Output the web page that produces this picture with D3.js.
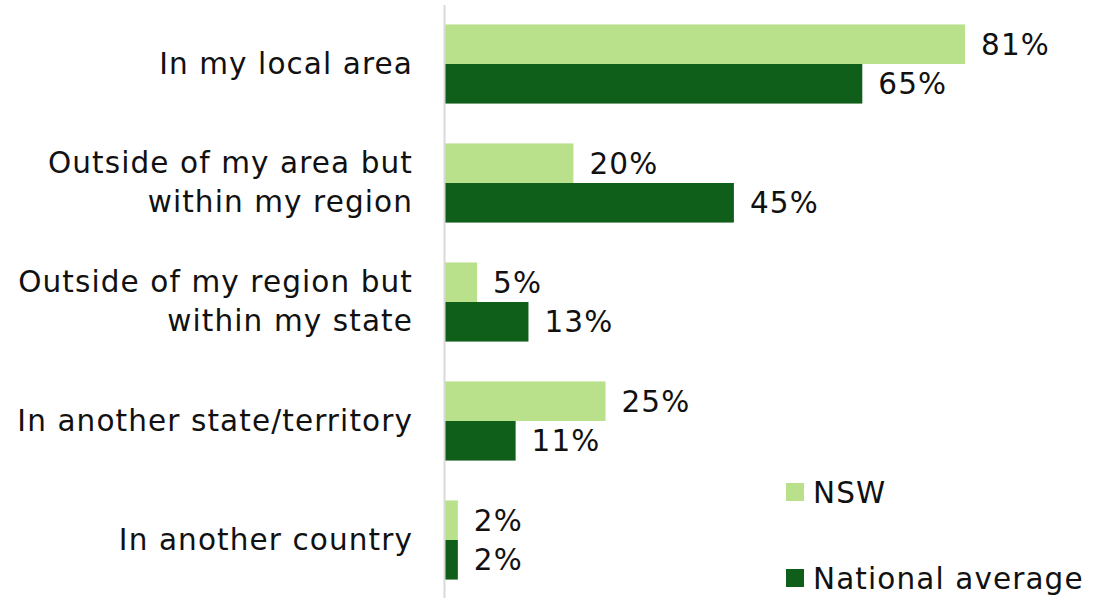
<!DOCTYPE html>
<html><head><meta charset="utf-8">
<script src="https://cdn.jsdelivr.net/npm/d3@7"></script>
<style>body{margin:0;background:#fff}svg{display:block}text{font-family:"DejaVu Sans",sans-serif;fill:#111;letter-spacing:1.1px}</style>
</head><body><svg id="c" width="1093" height="598"></svg>
<script>
const categories = [["In my local area"],["Outside of my area but","within my region"],["Outside of my region but","within my state"],["In another state/territory"],["In another country"]];
const seriesNames = ["NSW","National average"];
const nswValues = [81,20,5,25,2];
const nationalValues = [65,45,13,11,2];
const colors = ["#b9e08a","#0f5e19"];

const svg = d3.select("#c");
const fs = 29.5;
const x = d3.scaleLinear().domain([0,100]).range([445,1087]);
const y = d3.scaleBand().domain(d3.range(categories.length)).range([4.5,599.5]).paddingInner(0.335).paddingOuter(0.1675);
const y1 = d3.scaleBand().domain([0,1]).range([0,y.bandwidth()]);
const series = [nswValues,nationalValues];

series.forEach((vals,si)=>{
  const g = svg.append("g");
  g.selectAll("rect").data(vals).join("rect")
    .attr("x",x(0)).attr("y",(d,i)=>y(i)+y1(si))
    .attr("width",d=>x(d)-x(0)).attr("height",y1.bandwidth())
    .attr("fill",colors[si]);
  g.selectAll("text").data(vals).join("text")
    .attr("x",d=>x(d)+16).attr("y",(d,i)=>y(i)+y1(si)+y1.bandwidth()/2)
    .attr("dy","0.36em").attr("font-size",fs).text(d=>d+"%");
});

svg.append("line").attr("x1",x(0)-0.5).attr("x2",x(0)-0.5).attr("y1",5).attr("y2",598)
  .attr("stroke","#d9d9d9").attr("stroke-width",2);

const lh = 39;
categories.forEach((lines,i)=>{
  const cy = y(i)+y.bandwidth()/2;
  const t = svg.append("text").attr("text-anchor","end").attr("font-size",fs);
  lines.forEach((l,j)=>{
    t.append("tspan").attr("x",413).attr("y",cy+(j-(lines.length-1)/2)*lh).attr("dy","0.33em").text(l);
  });
});

const legY = [492,578];
seriesNames.forEach((n,i)=>{
  svg.append("rect").attr("x",786).attr("y",legY[i]-9).attr("width",18).attr("height",18).attr("fill",colors[i]);
  svg.append("text").attr("x",813).attr("y",legY[i]).attr("dy","0.36em").attr("font-size",fs).text(n);
});
</script></body></html>
